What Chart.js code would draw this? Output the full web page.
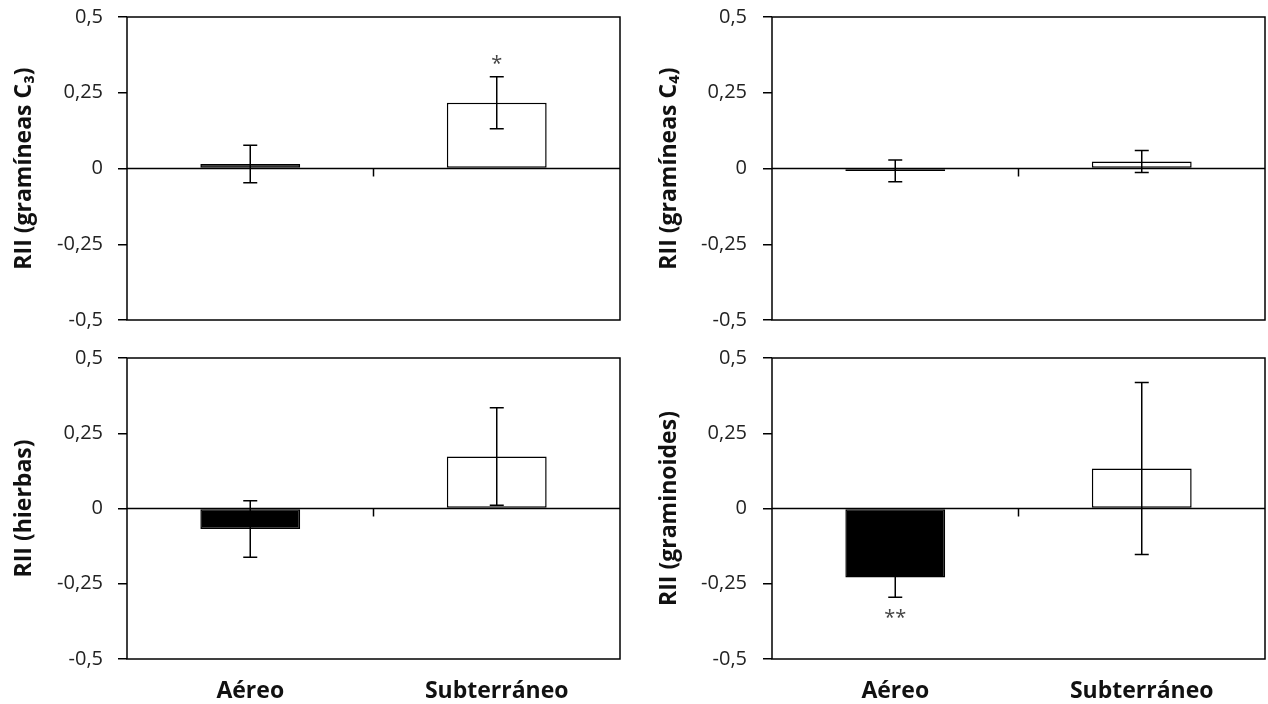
<!DOCTYPE html>
<html>
<head>
<meta charset="utf-8">
<script src="https://cdn.jsdelivr.net/npm/chart.js@4.4.1/dist/chart.umd.min.js"></script>
<style>
  body { margin: 0; background: #fff; }
  #wrap { position: relative; width: 1268px; height: 704px; }
  #wrap canvas { position: absolute; }
</style>
</head>
<body>
<div id="wrap">
  <canvas id="c3" width="640" height="340" style="left:0;top:0"></canvas>
  <canvas id="c4" width="628" height="340" style="left:640px;top:0"></canvas>
  <canvas id="hierbas" width="640" height="364" style="left:0;top:340px"></canvas>
  <canvas id="graminoides" width="628" height="364" style="left:640px;top:340px"></canvas>
</div>
<script>
const categories = ['Aéreo', 'Subterráneo'];
const yTickValues = [-0.5, -0.25, 0, 0.25, 0.5];

// RII means and error (+/-) per panel
const c3Values = [0.015, 0.217];
const c3Errors = [0.062, 0.086];
const c3Sig = ['', '*'];

const c4Values = [-0.008, 0.023];
const c4Errors = [0.036, 0.036];
const c4Sig = ['', ''];

const hierbasValues = [-0.068, 0.173];
const hierbasErrors = [0.094, 0.162];
const hierbasSig = ['', ''];

const graminoidesValues = [-0.229, 0.133];
const graminoidesErrors = [0.066, 0.286];
const graminoidesSig = ['**', ''];

Chart.defaults.font.family = "'Open Sans', sans-serif";

// zero line, middle category tick, error bars, asterisks and the box
const panelDecor = {
  id: 'panelDecor',
  afterDatasetsDraw(chart, args, opts) {
    const {ctx, chartArea: a, scales: {x, y}} = chart;
    const y0 = y.getPixelForValue(0);
    ctx.save();
    ctx.strokeStyle = '#000';
    ctx.lineWidth = 1.5;

    ctx.beginPath();
    ctx.moveTo(a.left, y0);
    ctx.lineTo(a.right, y0);
    ctx.stroke();

    for (let i = 1; i < chart.data.labels.length; i++) {
      const xm = (x.getPixelForValue(i - 1) + x.getPixelForValue(i)) / 2;
      ctx.beginPath();
      ctx.moveTo(xm, y0);
      ctx.lineTo(xm, y0 + 8);
      ctx.stroke();
    }

    const meta = chart.getDatasetMeta(0);
    const vals = chart.data.datasets[0].data;
    opts.errors.forEach((err, i) => {
      const bx = meta.data[i].x;
      const yt = y.getPixelForValue(vals[i] + err);
      const yb = y.getPixelForValue(vals[i] - err);
      ctx.beginPath();
      ctx.moveTo(bx, yt); ctx.lineTo(bx, yb);
      ctx.moveTo(bx - 7, yt); ctx.lineTo(bx + 7, yt);
      ctx.moveTo(bx - 7, yb); ctx.lineTo(bx + 7, yb);
      ctx.stroke();

      const s = opts.sig[i];
      if (s) {
        ctx.fillStyle = '#444';
        ctx.font = "20px 'Open Sans', sans-serif";
        ctx.textAlign = 'center';
        ctx.textBaseline = 'middle';
        const ty = vals[i] >= 0 ? yt - 12 : yb + 21;
        ctx.fillText(s, bx, ty);
      }
    });

    ctx.strokeRect(a.left, a.top, a.right - a.left, a.bottom - a.top);
    ctx.restore();
  }
};

function noPad(s) {
  s.paddingTop = 0;
  s.paddingBottom = 0;
  s.paddingLeft = 0;
  s.paddingRight = 0;
}

function makePanel(id, values, errors, sig, p) {
  return new Chart(document.getElementById(id), {
    type: 'bar',
    data: {
      labels: categories,
      datasets: [{
        data: values,
        backgroundColor: ['#000', '#fff'],
        borderColor: '#000',
        borderWidth: 1.5,
        borderSkipped: false,
        categoryPercentage: 1,
        barPercentage: 0.405
      }]
    },
    options: {
      responsive: false,
      animation: false,
      layout: { padding: { left: 0, right: p.padRight, top: p.padTop, bottom: 0 } },
      plugins: {
        legend: { display: false },
        tooltip: { enabled: false },
        panelDecor: { errors: errors, sig: sig }
      },
      scales: {
        x: {
          grid: { display: false, drawTicks: false },
          border: { display: false },
          ticks: { display: p.showX, padding: 19, color: '#111', font: { size: 23, weight: 'bold' } },
          afterFit: s => { s.height = p.xHeight; noPad(s); }
        },
        y: {
          min: -0.5,
          max: 0.5,
          afterBuildTicks: s => { s.ticks = yTickValues.map(v => ({ value: v })); },
          ticks: {
            padding: p.tickPad,
            color: '#222',
            font: { size: 20 },
            callback: v => String(v).replace('.', ',')
          },
          grid: { drawOnChartArea: false, drawTicks: true, tickLength: 9, color: '#000', lineWidth: 1.5 },
          border: { display: false },
          title: {
            display: true,
            text: p.title,
            color: '#111',
            font: { size: 23, weight: 'bold' },
            padding: { top: p.titlePad, bottom: 0 }
          },
          afterFit: s => { s.width = p.yWidth; noPad(s); }
        }
      }
    },
    plugins: [panelDecor]
  });
}

makePanel('c3', c3Values, c3Errors, c3Sig,
  { title: 'RII (gramíneas C₃)', yWidth: 127, padRight: 20, padTop: 17, xHeight: 20, showX: false, tickPad: 15, titlePad: 11 });
makePanel('c4', c4Values, c4Errors, c4Sig,
  { title: 'RII (gramíneas C₄)', yWidth: 132, padRight: 3, padTop: 17, xHeight: 20, showX: false, tickPad: 16, titlePad: 16 });
makePanel('hierbas', hierbasValues, hierbasErrors, hierbasSig,
  { title: 'RII (hierbas)', yWidth: 127, padRight: 20, padTop: 18, xHeight: 45, showX: true, tickPad: 15, titlePad: 11 });
makePanel('graminoides', graminoidesValues, graminoidesErrors, graminoidesSig,
  { title: 'RII (graminoides)', yWidth: 132, padRight: 3, padTop: 18, xHeight: 45, showX: true, tickPad: 16, titlePad: 16 });
</script>
</body>
</html>
